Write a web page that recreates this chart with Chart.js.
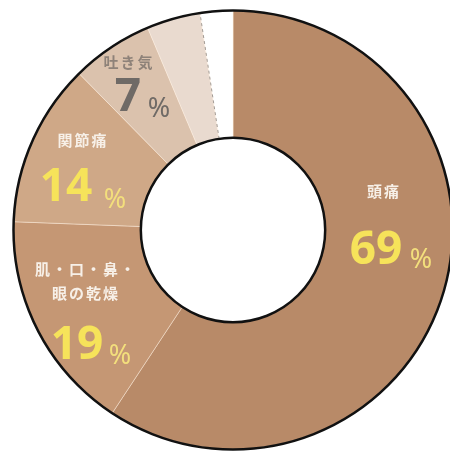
<!DOCTYPE html>
<html>
<head>
<meta charset="utf-8">
<script src="https://cdn.jsdelivr.net/npm/chart.js@4"></script>
<style>
  html, body { margin: 0; padding: 0; background: #fff; overflow: hidden; width: 450px; height: 452px; }
  #wrap { position: absolute; left: -7px; top: -10px; width: 480px; height: 480px; }
</style>
</head>
<body>
<div id="wrap"><canvas id="grafico" width="480" height="480"></canvas></div>
<script>
// 症状ごとの割合（複数回答）
const sintomas = ['頭痛', '肌・口・鼻・眼の乾燥', '関節痛', '吐き気', 'その他', '無回答'];
const porcentagens = [69, 19, 14, 7, null, null];
// 円グラフ上の扇の大きさ
const tamanhos = [69, 19, 14, 7, 4.6, 2.8];
const cores = ['#b88a68', '#c59774', '#cfa887', '#dbc2ad', '#e9dacf', '#ffffff'];

// ラベルの配置（中心からのずれ）
const rotulos = [
  { linhas: ['頭痛'], lx: 151, ly: -39, nx: 143, ny: 21, px: 188, py: 30, corTexto: '#f7f0e8', corNum: '#f6e35a', corPct: '#f3df7c' },
  { linhas: ['肌・口・鼻・', '眼の乾燥'], lx: -147, ly: 39, nx: -156, ny: 116, px: -113, py: 126, corTexto: '#f7f0e8', corNum: '#f6e35a', corPct: '#f3df7c' },
  { linhas: ['関節痛'], lx: -150, ly: -90, nx: -167, ny: -42, px: -118, py: -30, corTexto: '#f7f0e8', corNum: '#f6e35a', corPct: '#f3df7c' },
  { linhas: ['吐き気'], lx: -104, ly: -168, nx: -105, ny: -132, px: -74, py: -121, corTexto: '#8e8279', corNum: '#6f6a66', corPct: '#6f6a66' }
];

const contorno = {
  id: 'contorno',
  afterDatasetsDraw(chart) {
    const ctx = chart.ctx;
    const arcos = chart.getDatasetMeta(0).data;
    const cx = arcos[0].x, cy = arcos[0].y;
    const rOut = arcos[0].outerRadius, rIn = arcos[0].innerRadius;

    // 破線（その他と無回答の境目）
    const ang = arcos[5].startAngle;
    ctx.save();
    ctx.strokeStyle = '#a19a94';
    ctx.lineWidth = 1;
    ctx.setLineDash([3, 3]);
    ctx.beginPath();
    ctx.moveTo(cx + Math.cos(ang) * rIn, cy + Math.sin(ang) * rIn);
    ctx.lineTo(cx + Math.cos(ang) * rOut, cy + Math.sin(ang) * rOut);
    ctx.stroke();
    ctx.restore();

    // 外側と内側の黒い線
    ctx.save();
    ctx.strokeStyle = '#111';
    ctx.lineWidth = 2.5;
    ctx.beginPath();
    ctx.arc(cx, cy, rOut, 0, Math.PI * 2);
    ctx.stroke();
    ctx.beginPath();
    ctx.arc(cx, cy, rIn, 0, Math.PI * 2);
    ctx.stroke();
    ctx.restore();

    // ラベル
    ctx.save();
    ctx.textAlign = 'center';
    ctx.textBaseline = 'middle';
    for (let i = 0; i < rotulos.length; i++) {
      const r = rotulos[i];
      ctx.fillStyle = r.corTexto;
      ctx.font = 'bold 15px "Noto Sans CJK JP"';
      ctx.letterSpacing = '2px';
      for (let j = 0; j < r.linhas.length; j++) {
        ctx.fillText(r.linhas[j], cx + r.lx, cy + r.ly + j * 24);
      }
      ctx.letterSpacing = '0px';
      ctx.fillStyle = r.corNum;
      ctx.font = 'bold 46px "Noto Sans"';
      ctx.fillText(String(porcentagens[i]), cx + r.nx, cy + r.ny);
      ctx.fillStyle = r.corPct;
      ctx.font = '27px "Noto Sans"';
      ctx.fillText('%', cx + r.px, cy + r.py);
    }
    ctx.restore();
  }
};

new Chart(document.getElementById('grafico'), {
  type: 'doughnut',
  data: {
    labels: sintomas,
    datasets: [{
      data: tamanhos,
      backgroundColor: cores,
      borderColor: 'rgba(255,240,225,0.45)',
      borderWidth: 1,
      hoverOffset: 0,
      offset: 0
    }]
  },
  options: {
    responsive: false,
    animation: false,
    cutout: '42%',
    layout: { padding: 20 },
    plugins: {
      legend: { display: false },
      tooltip: { enabled: false }
    }
  },
  plugins: [contorno]
});
</script>
</body>
</html>
